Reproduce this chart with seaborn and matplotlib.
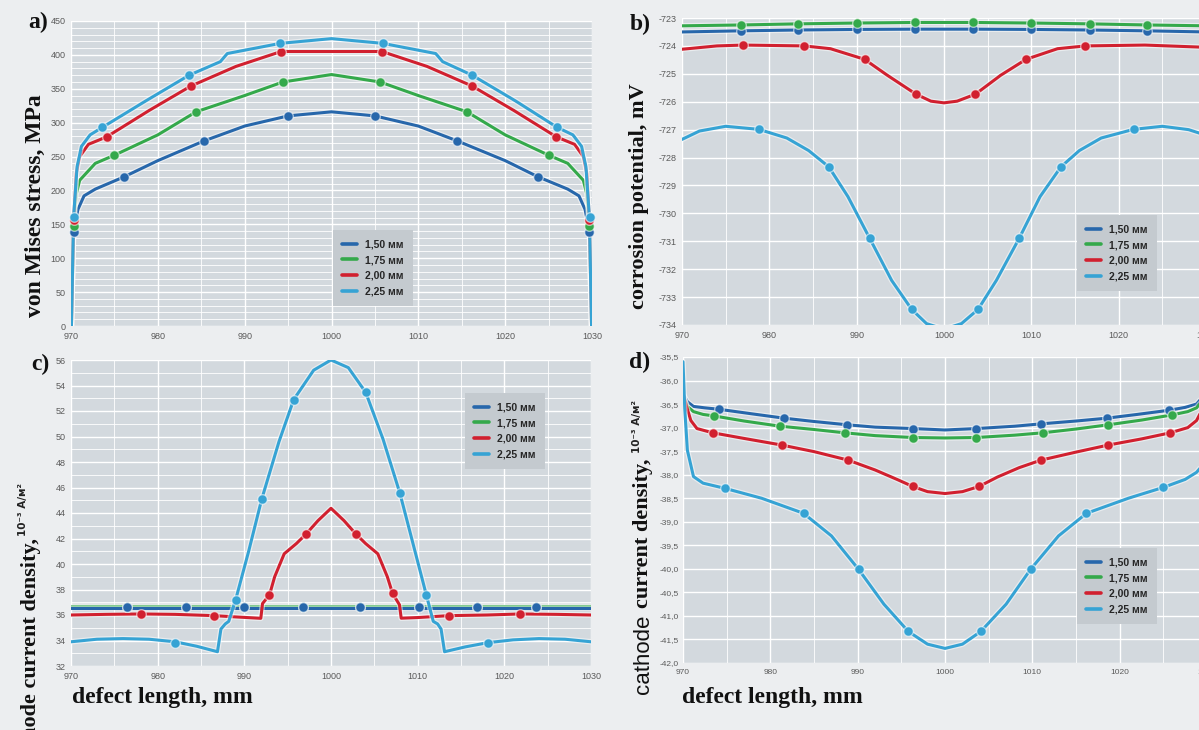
import matplotlib
matplotlib.use("Agg")
import matplotlib.pyplot as plt
import matplotlib.patheffects as pe
from matplotlib.lines import Line2D
from matplotlib.ticker import MultipleLocator, FuncFormatter
import seaborn as sns

W, H = 1199, 730

LABELS = ["1,50 мм", "1,75 мм", "2,00 мм", "2,25 мм"]
COLORS = ["#2767ab", "#34a94b", "#d1202f", "#36a3d4"]

# --- a) von Mises stress ---
a_x_150 = [970.05, 970.3, 970.8, 971.5, 972.8, 976.1, 980, 985.3, 990, 995, 1000, 1005, 1010, 1014.5, 1020, 1023.8, 1027.2, 1028.5, 1029.2, 1029.7, 1029.95]
a_y_150 = [0, 140, 172, 192, 202, 220, 244, 273, 295, 310, 316, 310, 295, 273, 244, 220, 202, 192, 172, 140, 0]
a_mx_150 = [970.4, 976.1, 985.3, 995.0, 1005.0, 1014.5, 1023.8, 1029.6]
a_my_150 = [138, 220, 273, 310, 310, 273, 220, 138]

a_x_175 = [970.05, 970.3, 970.6, 971.0, 972.8, 975.0, 980, 984.4, 990, 994.4, 1000, 1005.6, 1010, 1015.6, 1020, 1025.0, 1027.2, 1029.0, 1029.4, 1029.7, 1029.95]
a_y_175 = [0, 147, 195, 215, 240, 252, 282, 316, 340, 360, 371, 360, 340, 316, 282, 252, 240, 215, 195, 147, 0]
a_mx_175 = [970.3, 975.0, 984.4, 994.4, 1005.6, 1015.6, 1025.0, 1029.7]
a_my_175 = [147, 252, 316, 360, 360, 316, 252, 147]

a_x_200 = [970.05, 970.3, 970.6, 971.0, 972.0, 974.1, 979, 983.8, 989, 994.2, 1000, 1005.8, 1011, 1016.2, 1021, 1025.9, 1028.0, 1029.0, 1029.4, 1029.7, 1029.95]
a_y_200 = [0, 156, 225, 250, 268, 279, 318, 354, 383, 405, 405, 405, 383, 354, 318, 279, 268, 250, 225, 156, 0]
a_mx_200 = [970.3, 974.1, 983.8, 994.2, 1005.8, 1016.2, 1025.9, 1029.7]
a_my_200 = [156, 279, 354, 405, 405, 354, 279, 156]

a_x_225 = [970.05, 970.3, 970.7, 971.2, 972.2, 973.6, 978.6, 983.6, 987.2, 988.0, 994.1, 1000, 1005.9, 1012.0, 1012.8, 1016.2, 1021.2, 1026.0, 1027.8, 1028.8, 1029.3, 1029.7, 1029.95]
a_y_225 = [0, 161, 235, 265, 282, 293, 332, 370, 390, 402, 417, 424, 417, 402, 390, 370, 332, 293, 282, 265, 235, 161, 0]
a_mx_225 = [970.3, 973.6, 983.6, 994.1, 1005.9, 1016.2, 1026.0, 1029.8]
a_my_225 = [161, 293, 370, 417, 417, 370, 293, 161]

# --- b) corrosion potential ---
b_x_150 = [970, 976.7, 983.3, 990, 996.7, 1000, 1003.3, 1010, 1016.7, 1023.3, 1030]
b_y_150 = [-723.5, -723.46, -723.43, -723.41, -723.4, -723.4, -723.4, -723.41, -723.43, -723.46, -723.5]
b_mx_150 = [976.7, 983.3, 990, 996.7, 1003.3, 1010, 1016.7, 1023.3]
b_my_150 = [-723.46, -723.43, -723.41, -723.4, -723.4, -723.41, -723.43, -723.46]

b_x_175 = [970, 976.7, 983.3, 990, 996.7, 1000, 1003.3, 1010, 1016.7, 1023.3, 1030]
b_y_175 = [-723.28, -723.25, -723.21, -723.18, -723.16, -723.16, -723.16, -723.18, -723.21, -723.25, -723.28]
b_mx_175 = [976.7, 983.3, 990, 996.7, 1003.3, 1010, 1016.7, 1023.3]
b_my_175 = [-723.25, -723.21, -723.18, -723.16, -723.16, -723.18, -723.21, -723.25]

b_x_200 = [970, 974, 977, 984, 987, 990.9, 993.5, 996.8, 998.5, 1000, 1001.5, 1003.6, 1006.5, 1009.4, 1013, 1016.2, 1023, 1030]
b_y_200 = [-724.12, -724.0, -723.97, -724.0, -724.1, -724.48, -725.05, -725.73, -725.98, -726.04, -725.98, -725.73, -725.05, -724.48, -724.1, -724.0, -723.97, -724.05]
b_mx_200 = [977.0, 984.0, 990.9, 996.8, 1003.6, 1009.4, 1016.2]
b_my_200 = [-723.97, -724.0, -724.48, -725.73, -725.73, -724.48, -724.0]

b_x_225 = [970, 972, 975, 978.8, 982, 984.5, 986.8, 989, 991.5, 994, 996.3, 998, 1000, 1002, 1003.9, 1006, 1008.6, 1011, 1013.4, 1015.5, 1018, 1021.7, 1025, 1028, 1030]
b_y_225 = [-727.35, -727.05, -726.88, -726.99, -727.3, -727.75, -728.33, -729.4, -730.9, -732.4, -733.44, -733.95, -734.15, -733.95, -733.44, -732.4, -730.9, -729.4, -728.33, -727.75, -727.3, -726.99, -726.88, -727.0, -727.2]
b_mx_225 = [978.8, 986.8, 991.5, 996.3, 1003.9, 1008.6, 1013.4, 1021.7]
b_my_225 = [-726.99, -728.33, -730.9, -733.44, -733.44, -730.9, -728.33, -726.99]

# --- c) anode current density ---
c_x_150 = [970, 980, 990, 1000, 1010, 1020, 1030]
c_y_150 = [36.58, 36.58, 36.58, 36.58, 36.58, 36.58, 36.58]
c_mx_150 = [976.5, 983.3, 990.0, 996.8, 1003.3, 1010.1, 1016.8, 1023.7]
c_my_150 = [36.62, 36.62, 36.62, 36.62, 36.62, 36.62, 36.62, 36.62]

c_x_175 = [970, 980, 990, 1000, 1010, 1020, 1030]
c_y_175 = [36.68, 36.68, 36.68, 36.68, 36.68, 36.68, 36.68]
c_mx_175 = [976.5, 983.3, 990.0, 996.8, 1003.3, 1010.1, 1016.8, 1023.7]
c_my_175 = [36.62, 36.62, 36.62, 36.62, 36.62, 36.62, 36.62, 36.62]

c_x_200 = [970, 974, 978.1, 982, 986.5, 989, 991.9, 992.1, 992.9, 993.5, 994.6, 996, 997.1, 998.5, 1000, 1001.5, 1002.9, 1004, 1005.4, 1006.5, 1007.1, 1007.9, 1008.1, 1010, 1013.6, 1018, 1021.8, 1026, 1030]
c_y_200 = [36.0, 36.05, 36.08, 36.05, 35.95, 35.85, 35.74, 36.9, 37.57, 39.0, 40.8, 41.6, 42.33, 43.4, 44.37, 43.4, 42.33, 41.6, 40.8, 39.0, 37.7, 36.8, 35.75, 35.8, 35.95, 36.0, 36.08, 36.05, 36.0]
c_mx_200 = [978.1, 986.5, 992.9, 997.1, 1002.9, 1007.1, 1013.6, 1021.8]
c_my_200 = [36.08, 35.95, 37.57, 42.33, 42.33, 37.7, 35.95, 36.08]

c_x_225 = [970, 973, 976, 979, 982, 984.5, 986.9, 987.3, 987.8, 988.2, 989, 990.5, 992.0, 994, 995.7, 998, 1000, 1002, 1004, 1006, 1007.95, 1009.5, 1011, 1011.8, 1012.3, 1012.7, 1013.1, 1015.5, 1018.1, 1021, 1024, 1027, 1030]
c_y_225 = [33.9, 34.1, 34.15, 34.1, 33.9, 33.55, 33.12, 34.9, 35.3, 35.5, 37.2, 41.0, 45.07, 49.6, 52.9, 55.2, 56.0, 55.4, 53.47, 49.8, 45.55, 41.5, 37.57, 35.5, 35.3, 34.9, 33.12, 33.5, 33.83, 34.05, 34.15, 34.1, 33.9]
c_mx_225 = [982, 989, 992, 995.7, 1004, 1007.95, 1011, 1018.1]
c_my_225 = [33.83, 37.2, 45.07, 52.9, 53.47, 45.55, 37.57, 33.83]

# --- d) cathode current density ---
d_x_150 = [970.05, 970.5, 971.2, 972.5, 974.1, 978, 981.6, 985, 988.8, 992, 996.3, 1000, 1003.6, 1008, 1011.0, 1015, 1018.5, 1022, 1025.7, 1027.5, 1028.8, 1029.5, 1030]
d_y_150 = [-36.3, -36.45, -36.55, -36.58, -36.61, -36.71, -36.80, -36.87, -36.94, -36.99, -37.02, -37.05, -37.02, -36.97, -36.92, -36.86, -36.80, -36.72, -36.63, -36.57, -36.5, -36.35, -36.1]
d_mx_150 = [974.1, 981.6, 988.8, 996.3, 1003.6, 1011.0, 1018.5, 1025.7]
d_my_150 = [-36.61, -36.80, -36.94, -37.02, -37.02, -36.92, -36.80, -36.63]

d_x_175 = [970.05, 970.5, 971.2, 972.3, 973.5, 977, 981.1, 985, 988.5, 992, 996.3, 1000, 1003.6, 1008, 1011.2, 1015, 1018.7, 1022.5, 1026.0, 1027.8, 1028.8, 1029.5, 1030]
d_y_175 = [-36.35, -36.55, -36.66, -36.72, -36.75, -36.86, -36.97, -37.04, -37.11, -37.17, -37.21, -37.22, -37.21, -37.16, -37.11, -37.03, -36.94, -36.84, -36.73, -36.66, -36.58, -36.42, -36.15]
d_mx_175 = [973.5, 981.1, 988.5, 996.3, 1003.6, 1011.2, 1018.7, 1026.0]
d_my_175 = [-36.75, -36.97, -37.11, -37.21, -37.21, -37.11, -36.94, -36.73]

d_x_200 = [970.05, 970.4, 970.9, 971.6, 973.4, 977, 981.3, 985, 988.9, 992, 994.5, 996.3, 998, 1000, 1002, 1003.9, 1006, 1008.5, 1011.0, 1015, 1018.7, 1022.5, 1025.8, 1027.8, 1028.8, 1029.5, 1030]
d_y_200 = [-36.3, -36.55, -36.85, -37.02, -37.11, -37.23, -37.37, -37.51, -37.69, -37.9, -38.1, -38.25, -38.36, -38.40, -38.36, -38.25, -38.05, -37.85, -37.69, -37.52, -37.37, -37.24, -37.11, -37.0, -36.85, -36.6, -36.2]
d_mx_200 = [973.4, 981.3, 988.9, 996.3, 1003.9, 1011.0, 1018.7, 1025.8]
d_my_200 = [-37.11, -37.37, -37.69, -38.25, -38.25, -37.69, -37.37, -37.11]

d_x_225 = [970.0, 970.2, 970.5, 971.2, 972.3, 974.8, 979, 983.8, 987, 990.1, 993, 995.8, 998, 1000, 1002, 1004.1, 1007, 1009.8, 1013, 1016.2, 1021, 1025.0, 1027.5, 1028.8, 1029.5, 1030]
d_y_225 = [-35.6, -36.6, -37.48, -38.04, -38.18, -38.29, -38.5, -38.82, -39.3, -40.01, -40.75, -41.33, -41.6, -41.69, -41.6, -41.33, -40.75, -40.01, -39.3, -38.82, -38.5, -38.27, -38.1, -37.95, -37.8, -37.5]
d_mx_225 = [974.8, 983.8, 990.1, 995.8, 1004.1, 1009.8, 1016.2, 1025.0]
d_my_225 = [-38.29, -38.82, -40.01, -41.33, -41.33, -40.01, -38.82, -38.27]

sns.set_style("darkgrid", {"axes.facecolor": "#d3d9de", "grid.color": "white",
                           "figure.facecolor": "#eceef0"})
plt.rcParams["font.family"] = ["Liberation Sans Narrow", "Liberation Sans", "DejaVu Sans"]

fig = plt.figure(figsize=(W / 100, H / 100), dpi=100)


def px_axes(left, top, right, bottom):
    return fig.add_axes([left / W, 1 - bottom / H, (right - left) / W, (bottom - top) / H])


def ftext(x, y, s, **kw):
    fig.text(x / W, 1 - y / H, s, **kw)


def draw_panel(ax, series, ylim, ymajor, yminor, fmt, legend_xy, order=(0, 1, 2, 3), tsize=6.5):
    for i in order:
        xs, ys, mx, my = series[i]
        sns.lineplot(x=xs, y=ys, color=COLORS[i], lw=2.2, sort=False, estimator=None, ax=ax)
        ax.lines[-1].set_path_effects([pe.Stroke(linewidth=4.0, foreground="white", alpha=0.5), pe.Normal()])
        sns.scatterplot(x=mx, y=my, color=COLORS[i], s=48, edgecolor=(1, 1, 1, 0.55),
                        linewidth=1.0, ax=ax, zorder=5, clip_on=False)
    ax.set_xlim(970, 1030)
    ax.set_ylim(*ylim)
    ax.xaxis.set_major_locator(MultipleLocator(10))
    ax.xaxis.set_minor_locator(MultipleLocator(5))
    ax.yaxis.set_major_locator(MultipleLocator(ymajor))
    if yminor:
        ax.yaxis.set_minor_locator(MultipleLocator(yminor))
    ax.yaxis.set_major_formatter(FuncFormatter(fmt))
    ax.grid(which="major", color="white", lw=1.0)
    ax.grid(which="minor", color="white", lw=0.6)
    ax.tick_params(which="both", length=0, labelsize=tsize, labelcolor="#5a5a5a", pad=4)
    for s in ax.spines.values():
        s.set_visible(False)
    ax.set_xlabel("")
    ax.set_ylabel("")
    handles = [Line2D([0], [0], color=c, lw=2.6) for c in COLORS]
    ax.legend(handles, LABELS, loc="upper left", bbox_to_anchor=(legend_xy[0] / W, 1 - legend_xy[1] / H),
              bbox_transform=fig.transFigure, borderaxespad=0, prop={"weight": "bold", "size": 7.5},
              facecolor="#c4cacf", edgecolor="none", framealpha=1, fancybox=False,
              handlelength=1.4, handletextpad=0.8, labelspacing=0.55, borderpad=0.9)


def int_fmt(v, _):
    return f"{v:.0f}"


def comma_fmt(v, _):
    return f"{v:.1f}".replace(".", ",")


ax_a = px_axes(71, 21, 592, 326)
draw_panel(ax_a, [(a_x_150, a_y_150, a_mx_150, a_my_150), (a_x_175, a_y_175, a_mx_175, a_my_175),
                  (a_x_200, a_y_200, a_mx_200, a_my_200), (a_x_225, a_y_225, a_mx_225, a_my_225)],
           (0, 450), 50, 10, int_fmt, (333, 230))

ax_b = px_axes(682, 18, 1206, 325)
draw_panel(ax_b, [(b_x_150, b_y_150, b_mx_150, b_my_150), (b_x_175, b_y_175, b_mx_175, b_my_175),
                  (b_x_200, b_y_200, b_mx_200, b_my_200), (b_x_225, b_y_225, b_mx_225, b_my_225)],
           (-734, -723), 1, None, int_fmt, (1077, 215))

ax_c = px_axes(71, 360, 591, 666)
draw_panel(ax_c, [(c_x_150, c_y_150, c_mx_150, c_my_150), (c_x_175, c_y_175, c_mx_175, c_my_175),
                  (c_x_200, c_y_200, c_mx_200, c_my_200), (c_x_225, c_y_225, c_mx_225, c_my_225)],
           (32, 56), 2, 1, int_fmt, (465, 393), order=(1, 0, 2, 3))

ax_d = px_axes(683, 357, 1207, 663)
draw_panel(ax_d, [(d_x_150, d_y_150, d_mx_150, d_my_150), (d_x_175, d_y_175, d_mx_175, d_my_175),
                  (d_x_200, d_y_200, d_mx_200, d_my_200), (d_x_225, d_y_225, d_mx_225, d_my_225)],
           (-42, -35.5), 0.5, None, comma_fmt, (1077, 548), tsize=6)
ax_d.tick_params(axis="y", pad=3)

serif = dict(family="Liberation Serif", fontweight="bold", color="#111111")
ftext(38, 22, "a)", fontsize=17, ha="center", va="center", **serif)
ftext(640, 24, "b)", fontsize=17, ha="center", va="center", **serif)
ftext(40, 364, "c)", fontsize=17, ha="center", va="center", **serif)
ftext(640, 362, "d)", fontsize=17, ha="center", va="center", **serif)

ftext(35, 206, "von Mises stress, MPa", fontsize=17, rotation=90, ha="center", va="center", **serif)
ftext(639, 196, "corrosion potential, mV", fontsize=16, rotation=90, ha="center", va="center", **serif)

ftext(31, 538, "anode current density,", fontsize=16, rotation=90, ha="center", va="top", **serif)
ftext(23, 536, "10\u207b\u00b3 A/м\u00b2", fontsize=7.5, rotation=90, ha="center", va="bottom",
      family="DejaVu Sans", fontweight="bold", color="#222222")

ftext(643, 694, "cathode", fontsize=16, rotation=90, ha="center", va="bottom",
      family="Liberation Sans", color="#111111")
ftext(643, 608, "current density,", fontsize=16, rotation=90, ha="center", va="bottom", **serif)
ftext(637, 453, "10\u207b\u00b3 A/м\u00b2", fontsize=7.5, rotation=90, ha="center", va="bottom",
      family="DejaVu Sans", fontweight="bold", color="#222222")

ftext(72, 697, "defect length, mm", fontsize=17, ha="left", va="center", **serif)
ftext(682, 698, "defect length, mm", fontsize=17, ha="left", va="center", **serif)

fig.savefig("out.png", dpi=100)
